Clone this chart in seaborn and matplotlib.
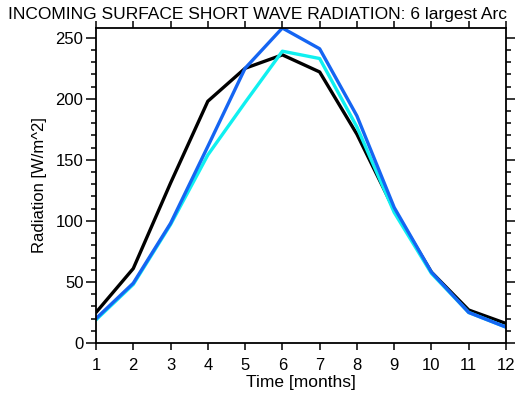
import matplotlib
matplotlib.use("Agg")
import matplotlib.pyplot as plt
import seaborn as sns
import pandas as pd
from matplotlib.ticker import MultipleLocator

months = [1, 2, 3, 4, 5, 6, 7, 8, 9, 10, 11, 12]
black_vals = [25, 61, 131, 198, 225, 236, 222, 171, 109, 58, 27, 16]
cyan_vals = [19, 48, 97, 154, 197, 239, 233, 177, 107, 57, 25, 13]
blue_vals = [20, 49, 98, 161, 225, 258, 241, 186, 111, 58, 25, 13]
series_names = ["s1", "s2", "s3"]
colors = ["#000000", "#10F0F0", "#1565F2"]

title = "INCOMING SURFACE SHORT WAVE RADIATION: 6 largest Arc"
xlabel = "Time [months]"
ylabel = "Radiation [W/m^2]"

sns.set_theme(style="white")
plt.rcParams['font.family'] = ['Liberation Sans', 'DejaVu Sans']
plt.rcParams['text.color'] = 'black'
plt.rcParams['axes.labelcolor'] = 'black'

df = pd.DataFrame({
    "month": months * 3,
    "value": black_vals + cyan_vals + blue_vals,
    "series": [series_names[0]] * 12 + [series_names[1]] * 12 + [series_names[2]] * 12,
})

fig = plt.figure(figsize=(5.15, 3.99), dpi=100)
ax = fig.add_axes([96/515, 1 - 343/399, (506 - 96)/515, (343 - 28)/399])
sns.lineplot(data=df, x="month", y="value", hue="series", palette=colors,
             linewidth=2.4, legend=False, ax=ax, sort=False)

ax.set_xlim(1, 12)
ax.set_ylim(0, 258)
ax.set_xticks(months)
ax.set_xticklabels([str(m) for m in months])
ax.yaxis.set_major_locator(MultipleLocator(50))
ax.yaxis.set_minor_locator(MultipleLocator(10))
ax.tick_params(axis='both', which='major', direction='out', width=1.1,
               labelsize=12, color='black', labelcolor='black',
               top=True, right=True, bottom=True, left=True)
ax.tick_params(axis='x', which='major', length=5, pad=6)
ax.tick_params(axis='y', which='major', length=7, pad=2)
ax.tick_params(axis='y', which='minor', direction='out', length=3.5, width=1.1,
               left=True, right=True, color='black')
for s in ax.spines.values():
    s.set_color('black')
    s.set_linewidth(1.3)
ax.set_xlabel(xlabel, fontsize=12.5, labelpad=1)
ax.set_ylabel(ylabel, fontsize=12, labelpad=6)
fig.text(8/515, 1 - 15/399, title, fontsize=12.5, ha='left', va='center')

fig.savefig("out.png", dpi=100)
